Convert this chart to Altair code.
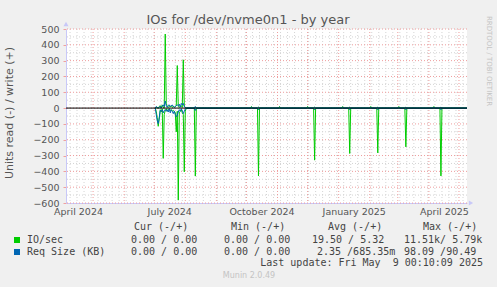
import altair as alt
import pandas as pd

# ---------------- data ----------------
# active period: one value per day, 2024-07-02 .. 2024-08-02
active_start = "2024-07-02"
active_io_write = [0, 5, 3, 0, 10, 15, 0, 20, 5, 0, 468, 30, 10, 5, 12, 8, 15, 5, 10, 5,
                   10, 15, 269, 10, 5, 10, 15, 5, 305, 10, 5, 0]
active_io_read = [0, 20, 60, 115, 70, 10, 25, 5, 318, 40, 15, 5, 20, 10, 5, 15, 10, 20, 15, 20,
                  30, 150, 20, 582, 30, 20, 10, 30, 40, 403, 20, 0]
active_req_write = [0, 10, 5, 0, 5, 10, 0, 15, 20, 10, 45, 15, 5, 15, 20, 10, 15, 20, 10, 5,
                    10, 15, 20, 15, 25, 5, 30, 20, 30, 10, 5, 0]
active_req_read = [0, 40, 80, 98, 60, 15, 20, 10, 30, 15, 10, 20, 10, 25, 5, 30, 10, 20, 35, 20,
                   40, 55, 45, 25, 10, 20, 5, 15, 35, 20, 5, 0]

# isolated single-day events later in the year
event_dates = ["2024-08-11", "2024-10-06", "2024-10-13", "2024-11-03", "2024-12-01", "2024-12-08",
               "2025-01-05", "2025-01-12", "2025-02-02", "2025-02-09", "2025-03-02", "2025-03-09",
               "2025-04-06", "2025-04-13"]
event_io_write = [5, 10, 5, 10, 10, 5, 10, 5, 10, 5, 10, 5, 10, 5]
event_io_read = [430, 0, 429, 0, 0, 329, 0, 287, 0, 283, 0, 245, 0, 429]
event_req_write = [10, 5, 5, 5, 5, 5, 5, 5, 5, 5, 5, 5, 5, 5]
event_req_read = [15, 0, 10, 0, 0, 10, 0, 10, 0, 10, 0, 10, 0, 10]

end_date = "2025-05-09"
domain_start = "2024-04-04"

y_ticks = list(range(-600, 501, 100))
y_minor = list(range(-550, 451, 100))
x_label_dates = ["2024-04-16", "2024-07-16", "2024-10-16", "2025-01-16", "2025-04-16"]

legend_header = ["Cur (-/+)", "Min (-/+)", "Avg (-/+)", "Max (-/+)"]
legend_names = ["IO/sec", "Req Size (KB)"]
legend_io = ["0.00 / 0.00", "0.00 / 0.00", "19.50 / 5.32", "11.51k/ 5.79k"]
legend_req = ["0.00 / 0.00", "0.00 / 0.00", "2.35 /685.35m", "98.09 /90.49"]
last_update = "Last update: Fri May\u00a0 9 00:10:09 2025"

GREEN = "#00CC00"
BLUE = "#0066B3"

# ---------------- build tables ----------------
rows = []
adates = pd.date_range(active_start, periods=len(active_io_write), freq="D")
for i, d in enumerate(adates):
    rows.append((d, active_io_write[i], active_io_read[i], active_req_write[i], active_req_read[i]))
for i, ds in enumerate(event_dates):
    d = pd.Timestamp(ds)
    rows.append((d - pd.Timedelta(days=1), 0, 0, 0, 0))
    rows.append((d, event_io_write[i], event_io_read[i], event_req_write[i], event_req_read[i]))
    rows.append((d + pd.Timedelta(days=1), 0, 0, 0, 0))
rows.append((pd.Timestamp(end_date), 0, 0, 0, 0))

long = []
for d, w, r, rw, rr in rows:
    ds = d.strftime("%Y-%m-%dT00:00:00")
    long.append({"date": ds, "series": "io", "dir": "write", "v": w})
    long.append({"date": ds, "series": "io", "dir": "read", "v": -r})
    long.append({"date": ds, "series": "req", "dir": "write", "v": rw})
    long.append({"date": ds, "series": "req", "dir": "read", "v": -rr})
df = pd.DataFrame(long)

months = [d.strftime("%Y-%m-%dT00:00:00") for d in pd.date_range("2024-05-01", "2025-05-01", freq="MS")]
weeks = [d.strftime("%Y-%m-%dT00:00:00") for d in pd.date_range("2024-04-08", "2025-05-05", freq="W-MON")]


def dt(s):
    t = pd.Timestamp(s)
    return alt.DateTime(year=t.year, month=t.month, date=t.day)


xscale = alt.Scale(domain=[dt(domain_start), dt(end_date)])
yscale = alt.Scale(domain=[-600, 500], nice=False, zero=False)

W, H = 401, 174
L, T = 66, 29

x_axis = alt.Axis(
    values=[dt(s) for s in x_label_dates], format="%B %Y", formatType="time",
    ticks=False, grid=False, labelOverlap=False, labelFlush=False,
    labelFont="DejaVu Sans", labelFontSize=9.5, labelColor="#555555",
    labelPadding=3, domainColor="#C8C8F8", title=None)
y_axis = alt.Axis(
    values=y_ticks, grid=False, ticks=True, tickSize=3, tickColor="#F0A0A0",
    labelOverlap=False, labelFlush=False,
    labelFont="DejaVu Sans", labelFontSize=9.5, labelColor="#555555",
    labelPadding=4, domainColor="#C8C8F8", title=None)


def X():
    return alt.X("date:T", scale=xscale, axis=x_axis)


def Y():
    return alt.Y("v:Q", scale=yscale, axis=y_axis)


hmin = alt.Chart(pd.DataFrame({"v": y_minor})).mark_rule(
    color="#D4D4D4", strokeDash=[1, 2], strokeWidth=1).encode(y=Y())
vmin = alt.Chart(pd.DataFrame({"date": weeks})).mark_rule(
    color="#D4D4D4", strokeDash=[1, 2], strokeWidth=1).encode(x=X())
hmaj = alt.Chart(pd.DataFrame({"v": y_ticks})).mark_rule(
    color="#EE9C9C", strokeDash=[1, 2], strokeWidth=1).encode(y=Y())
vmaj = alt.Chart(pd.DataFrame({"date": months})).mark_rule(
    color="#EE9C9C", strokeDash=[1, 2], strokeWidth=1).encode(x=X())

io_lines = alt.Chart(df[df.series == "io"]).mark_line(color=GREEN, strokeWidth=1).encode(
    x=X(), y=Y(), detail="dir:N")
req_lines = alt.Chart(df[df.series == "req"]).mark_line(color=BLUE, strokeWidth=1).encode(
    x=X(), y=Y(), detail="dir:N")
zero = alt.Chart(pd.DataFrame({"v": [0]})).mark_rule(color="#000000", strokeWidth=1).encode(y=Y())


def txt(s, x, y, size=10, align="left", color="#444444", font="DejaVu Sans Mono", angle=0):
    return alt.Chart(pd.DataFrame({"t": [s]})).mark_text(
        align=align, baseline="middle", fontSize=size, font=font, color=color, angle=angle
    ).encode(x=alt.value(x - L), y=alt.value(y - T), text="t:N")


texts = [
    txt("IOs for /dev/nvme0n1 - by year", 248, 20, size=13, align="center",
        color="#555555", font="DejaVu Sans"),
    txt("Units read (-) / write (+)", 10, 113, size=11, align="center",
        color="#555555", font="DejaVu Sans", angle=270),
    txt("RRDTOOL / TOBI OETIKER", 489, 61, size=7, align="center",
        color="#C4C4C4", font="DejaVu Sans", angle=90),
    txt("Munin 2.0.49", 249, 276, size=8, align="center", color="#C4C4C4", font="DejaVu Sans"),
    txt(last_update, 483, 263, align="right"),
]
hx = [134, 231, 328, 423]
for s, x in zip(legend_header, hx):
    texts.append(txt(s, x, 227))
texts.append(txt(legend_names[0], 27, 240))
texts.append(txt(legend_names[1], 27, 252))
for s, x in zip(legend_io, [131, 224, 312, 404]):
    texts.append(txt(s, x, 240))
for s, x in zip(legend_req, [131, 224, 317, 404]):
    texts.append(txt(s, x, 252))

sq_green = alt.Chart(pd.DataFrame({"k": ["io"]})).mark_square(size=36, color=GREEN, opacity=1).encode(
    x=alt.value(17 - L), y=alt.value(240 - T))
sq_blue = alt.Chart(pd.DataFrame({"k": ["req"]})).mark_square(size=36, color=BLUE, opacity=1).encode(
    x=alt.value(17 - L), y=alt.value(252 - T))
arrow_up = alt.Chart(pd.DataFrame({"k": [1]})).mark_point(
    shape="triangle-up", filled=True, size=25, color="#C8C8F8", opacity=1).encode(
    x=alt.value(0), y=alt.value(-5))
arrow_right = alt.Chart(pd.DataFrame({"k": [1]})).mark_point(
    shape="triangle-right", filled=True, size=25, color="#C8C8F8", opacity=1).encode(
    x=alt.value(W + 4), y=alt.value(H))

chart = alt.layer(
    hmin, vmin, hmaj, vmaj, io_lines, req_lines, zero,
    sq_green, sq_blue, arrow_up, arrow_right, *texts
).properties(
    width=W, height=H,
    autosize=alt.AutoSizeParams(type="none"),
    padding={"left": L, "top": T, "right": 497 - L - W, "bottom": 287 - T - H},
    background="#F0F0F0",
).configure_view(fill="#FFFFFF", stroke=None)

chart.save("out.html", embed_options={"renderer": "svg", "actions": False})
